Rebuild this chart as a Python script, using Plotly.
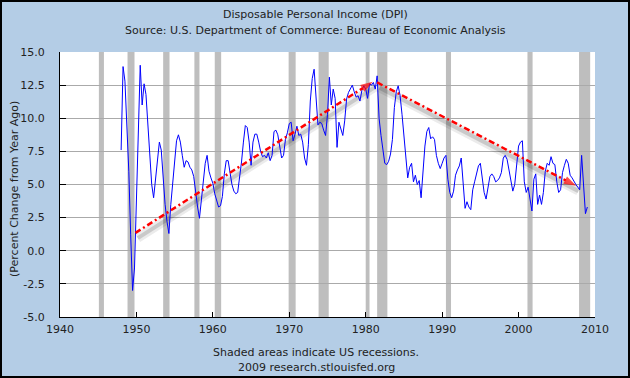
import pandas as pd
import plotly.graph_objects as go

# ---- data (percent change from year ago, quarterly, starting 1948 Q1) ----
dpi_1940s = [7.6, 13.9, 12.8, 9.8,
             6.0, 1.2, -3.0, -1.3]
dpi_1950s = [4.5, 10.0, 14.0, 11.0,
             12.6, 11.8, 9.8, 7.6,
             5.0, 4.0, 5.5, 7.0,
             8.2, 7.6, 5.1, 3.5,
             2.2, 1.3, 3.5, 5.0,
             6.9, 8.3, 8.75, 8.2,
             7.2, 6.3, 6.8, 6.7,
             6.3, 6.1, 5.6, 4.2,
             3.3, 2.45, 4.0, 5.5,
             6.6, 7.2, 6.0, 5.5]
dpi_1960s = [5.1, 4.3, 3.7, 3.3,
             3.4, 4.1, 5.8, 6.8,
             6.8, 5.9, 5.0, 4.5,
             4.3, 4.4, 5.4, 6.7,
             8.2, 9.45, 9.3, 8.2,
             6.45, 8.2, 8.8, 8.8,
             8.2, 7.5, 7.1, 7.2,
             7.0, 7.4, 6.8, 7.2,
             9.0, 9.1, 8.75, 8.0,
             7.0, 7.2, 8.4, 8.9]
dpi_1970s = [9.6, 9.7, 8.3, 8.8,
             9.4, 8.7, 8.8, 8.2,
             7.0, 6.45, 8.0, 11.3,
             13.0, 13.7, 11.6, 9.5,
             9.7, 9.6, 9.1, 8.7,
             10.3, 13.1, 11.0, 12.2,
             11.5, 7.8, 9.7, 9.2,
             8.7, 9.8, 11.45, 11.95,
             12.3, 12.5, 12.0, 11.6,
             11.7, 11.3, 12.1, 12.45]
dpi_1980s = [12.2, 11.5, 12.6, 12.5,
             12.7, 12.2, 13.2, 10.0,
             8.7, 7.5, 6.6, 6.5,
             6.75, 7.3, 8.4, 10.8,
             12.0, 12.45, 11.7, 10.3,
             8.5, 6.7, 5.5, 6.3,
             6.6, 5.2, 5.7, 5.0,
             5.3, 4.0, 6.3, 7.9,
             9.0, 9.3, 8.45, 8.6,
             8.4, 7.2, 6.6, 6.2]
dpi_1990s = [6.6, 7.0, 7.2, 5.4,
             4.4, 4.0, 4.5, 5.7,
             6.1, 6.4, 7.0, 5.0,
             3.2, 3.7, 3.3, 3.1,
             4.6, 5.2, 5.7, 6.4,
             6.6, 5.3, 4.4, 3.9,
             4.7, 5.6, 5.8, 5.6,
             5.2, 5.3, 5.5, 5.9,
             7.0, 7.2, 6.9, 6.1,
             5.3, 4.5, 5.0, 6.7]
dpi_2000s = [7.9, 8.2, 8.3, 5.2,
             4.4, 4.8, 4.0, 3.0,
             5.4, 5.8, 3.5, 4.2,
             3.5, 4.4, 6.0, 6.6,
             6.45, 7.1, 6.6, 6.5,
             5.2, 4.4, 4.6, 5.9,
             6.45, 6.9, 6.6, 5.7,
             5.5, 5.2, 5.0, 4.8,
             4.6, 7.2, 4.5, 2.8,
             3.3]
series_start = "1948-01-01"

# recessions (shaded areas)
rec_start = ["1945-02-01", "1948-11-01", "1953-07-01", "1957-08-01", "1960-04-01",
             "1969-12-01", "1973-11-01", "1980-01-01", "1981-07-01", "1990-07-01",
             "2001-03-01", "2007-12-01"]
rec_end = ["1945-10-01", "1949-10-01", "1954-05-01", "1958-04-01", "1961-02-01",
           "1970-11-01", "1975-03-01", "1980-07-01", "1982-11-01", "1991-03-01",
           "2001-11-01", "2009-05-15"]

# trend arrows (start -> end)
arrow_x0 = ["1949-11-15", "1981-07-01"]
arrow_y0 = [1.35, 12.7]
arrow_x1 = ["1980-12-01", "2007-07-15"]
arrow_y1 = [12.75, 4.9]

tick_years = [1940, 1950, 1960, 1970, 1980, 1990, 2000, 2010]
y_ticks = [-5.0, -2.5, 0.0, 2.5, 5.0, 7.5, 10.0, 12.5, 15.0]
y_ticktext = [f"{v:.1f}" for v in y_ticks]

values = dpi_1940s + dpi_1950s + dpi_1960s + dpi_1970s + dpi_1980s + dpi_1990s + dpi_2000s
dates = pd.date_range(series_start, periods=len(values), freq="QS")

FONT = "DejaVu Sans"
fig = go.Figure()

# shadows of the trend arrows
for x0, y0, x1, y1 in zip(arrow_x0, arrow_y0, arrow_x1, arrow_y1):
    sx = [pd.Timestamp(x0) + pd.Timedelta(days=110), pd.Timestamp(x1) + pd.Timedelta(days=110)]
    sy = [y0 - 0.4, y1 - 0.4]
    fig.add_trace(go.Scatter(x=sx, y=sy, mode="lines", hoverinfo="skip",
                             line=dict(color="rgba(0,0,0,0.08)", width=9)))
    fig.add_trace(go.Scatter(x=sx, y=sy, mode="lines", hoverinfo="skip",
                             line=dict(color="rgba(0,0,0,0.14)", width=4)))

# data line
fig.add_trace(go.Scatter(x=dates, y=values, mode="lines",
                         line=dict(color="#0000FF", width=1)))

# trend arrows
for x0, y0, x1, y1 in zip(arrow_x0, arrow_y0, arrow_x1, arrow_y1):
    fig.add_trace(go.Scatter(
        x=[x0, x1], y=[y0, y1], mode="lines+markers", hoverinfo="skip",
        line=dict(color="#FF0000", width=2.5, dash="6px,3px,2px,3px"),
        marker=dict(symbol="arrow", size=[0, 13], color="#FF0000",
                    angleref="previous", line=dict(width=0))))

shapes = []
for s, e in zip(rec_start, rec_end):
    shapes.append(dict(type="rect", xref="x", yref="paper", x0=s, x1=e, y0=0, y1=1,
                       fillcolor="#BEBEBE", line=dict(width=0), layer="below"))
L, R, T, B = 60, 35, 52, 61
PW, PH = 630 - L - R, 378 - T - B
shapes.append(dict(type="rect", xref="paper", yref="paper",
                   x0=(-L + 1) / PW, x1=1 + (R - 1) / PW,
                   y0=(-B + 1) / PH, y1=1 + (T - 1) / PH,
                   line=dict(color="black", width=2), fillcolor="rgba(0,0,0,0)"))

def py(px):  # pixel y -> paper y
    return (378 - B - px) / PH

def pxx(px):
    return (px - L) / PW

annotations = [
    dict(text="Disposable Personal Income (DPI)", x=pxx(315), y=py(14), xref="paper", yref="paper",
         showarrow=False, font=dict(family=FONT, size=11, color="#222"), xanchor="center", yanchor="middle"),
    dict(text="Source: U.S. Department of Commerce: Bureau of Economic Analysis", x=pxx(315), y=py(30),
         xref="paper", yref="paper", showarrow=False, font=dict(family=FONT, size=11, color="#222"),
         xanchor="center", yanchor="middle"),
    dict(text="Shaded areas indicate US recessions.", x=pxx(316), y=py(352), xref="paper", yref="paper",
         showarrow=False, font=dict(family=FONT, size=11, color="#222"), xanchor="center", yanchor="middle"),
    dict(text="2009 research.stlouisfed.org", x=pxx(316), y=py(367), xref="paper", yref="paper",
         showarrow=False, font=dict(family=FONT, size=11, color="#222"), xanchor="center", yanchor="middle"),
    dict(text="(Percent Change from Year Ago)", x=pxx(14), y=py(189), xref="paper", yref="paper",
         showarrow=False, textangle=-90, font=dict(family=FONT, size=11, color="#222"),
         xanchor="center", yanchor="middle"),
]

fig.update_layout(
    width=630, height=378,
    margin=dict(l=L, r=R, t=T, b=B),
    paper_bgcolor="#B4CDE6", plot_bgcolor="white",
    showlegend=False,
    font=dict(family=FONT, size=11, color="#222"),
    shapes=shapes, annotations=annotations,
    xaxis=dict(type="date", range=["1940-01-01", "2010-01-01"],
               tickvals=[f"{y}-01-01" for y in tick_years], ticktext=[str(y) for y in tick_years],
               ticks="inside", ticklen=5, tickcolor="black", showline=True, linecolor="black",
               linewidth=1, showgrid=False, zeroline=False, ticklabelstandoff=2),
    yaxis=dict(range=[-5, 15], tickvals=y_ticks, ticktext=y_ticktext,
               ticks="inside", ticklen=6, tickcolor="black", showline=True, linecolor="black",
               linewidth=1, showgrid=True, gridcolor="#AAAAAA", gridwidth=1, zeroline=False,
               ticklabelstandoff=12),
)

fig.write_html("out.html", config={"displayModeBar": False},
               post_script="document.body.style.margin='0';document.body.style.padding='0';")
